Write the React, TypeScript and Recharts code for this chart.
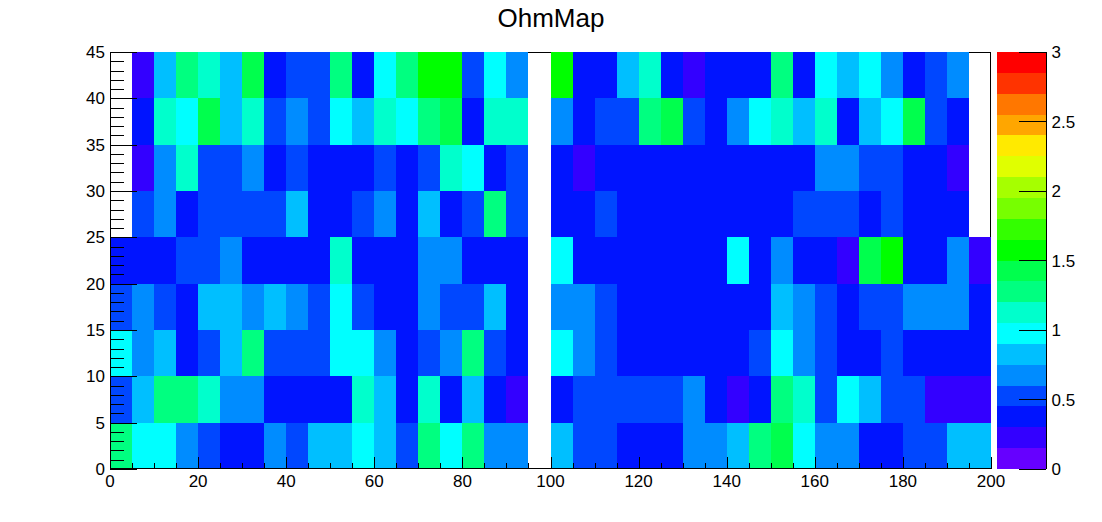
import { Bar, BarChart, Scatter, ScatterChart, XAxis, YAxis } from "recharts";

const FONT = "'Liberation Sans', Arial, sans-serif";

// bin size of the histogram
const binW = 5;
const binH = 5;

// ohm values per y-row, bottom (0-5) to top (40-45); null = empty bin
const row0 = [1.28, 0.98, 0.98, 0.68, 0.53, 0.38, 0.38, 0.68, 0.53, 0.83, 0.83, 0.98, 0.83, 0.53, 1.28, 0.98, 1.28, 0.68, 0.68, null, 0.83, 0.53, 0.53, 0.38, 0.38, 0.38, 0.68, 0.68, 0.83, 1.28, 1.43, 0.98, 0.68, 0.68, 0.38, 0.38, 0.53, 0.53, 0.83, 0.83];
const row1 = [0.53, 0.83, 1.28, 1.28, 1.13, 0.68, 0.68, 0.38, 0.38, 0.38, 0.38, 1.13, 0.83, 0.38, 1.13, 0.38, 0.83, 0.38, 0.23, null, 0.38, 0.53, 0.53, 0.53, 0.53, 0.53, 0.68, 0.38, 0.23, 0.38, 1.28, 1.13, 0.53, 0.98, 0.83, 0.53, 0.53, 0.23, 0.23, 0.23];
const row2 = [0.98, 0.68, 0.83, 0.38, 0.53, 0.83, 1.28, 0.53, 0.53, 0.53, 0.98, 0.98, 0.68, 0.38, 0.53, 0.68, 1.28, 0.53, 0.38, null, 0.98, 0.68, 0.53, 0.38, 0.38, 0.38, 0.38, 0.38, 0.38, 0.53, 0.98, 0.68, 0.53, 0.38, 0.38, 0.53, 0.38, 0.38, 0.38, 0.38];
const row3 = [0.53, 0.68, 0.53, 0.38, 0.83, 0.83, 0.68, 0.83, 0.68, 0.53, 0.98, 0.53, 0.38, 0.38, 0.68, 0.53, 0.53, 0.83, 0.38, null, 0.68, 0.68, 0.53, 0.38, 0.38, 0.38, 0.38, 0.38, 0.38, 0.38, 0.83, 0.68, 0.53, 0.38, 0.53, 0.53, 0.68, 0.68, 0.68, 0.38];
const row4 = [0.38, 0.38, 0.38, 0.53, 0.53, 0.68, 0.38, 0.38, 0.38, 0.38, 1.13, 0.38, 0.38, 0.38, 0.68, 0.68, 0.38, 0.38, 0.38, null, 0.98, 0.38, 0.38, 0.38, 0.38, 0.38, 0.38, 0.38, 0.98, 0.38, 0.68, 0.38, 0.38, 0.23, 1.43, 1.58, 0.38, 0.38, 0.68, 0.23];
const row5 = [null, 0.53, 0.68, 0.38, 0.53, 0.53, 0.53, 0.53, 0.83, 0.38, 0.38, 0.53, 0.68, 0.38, 0.83, 0.38, 0.53, 1.28, 0.53, null, 0.38, 0.38, 0.53, 0.38, 0.38, 0.38, 0.38, 0.38, 0.38, 0.38, 0.38, 0.53, 0.53, 0.53, 0.38, 0.53, 0.38, 0.38, 0.38, null];
const row6 = [null, 0.23, 0.68, 1.13, 0.53, 0.53, 0.68, 0.38, 0.53, 0.38, 0.38, 0.38, 0.53, 0.38, 0.53, 1.13, 0.98, 0.38, 0.53, null, 0.38, 0.23, 0.38, 0.38, 0.38, 0.38, 0.38, 0.38, 0.38, 0.38, 0.38, 0.38, 0.68, 0.68, 0.53, 0.53, 0.38, 0.38, 0.23, null];
const row7 = [null, 0.38, 1.13, 0.98, 1.43, 0.83, 1.13, 0.53, 0.68, 0.53, 0.98, 0.83, 1.13, 0.98, 1.28, 1.43, 0.38, 1.13, 1.13, null, 0.68, 0.38, 0.53, 0.53, 1.28, 1.43, 0.53, 0.38, 0.68, 0.98, 1.13, 0.83, 1.13, 0.38, 0.83, 0.98, 1.43, 0.53, 0.38, null];
const row8 = [null, 0.23, 0.83, 1.28, 1.13, 0.83, 1.43, 0.38, 0.53, 0.53, 1.28, 0.38, 0.98, 1.28, 1.58, 1.58, 0.53, 0.98, 0.68, null, 1.58, 0.38, 0.38, 0.83, 1.13, 0.38, 0.23, 0.38, 0.38, 0.38, 1.28, 0.38, 0.98, 0.83, 0.98, 0.68, 0.38, 0.53, 0.68, null];
const rows = [row0, row1, row2, row3, row4, row5, row6, row7, row8];

// palette, 20 contours between zMin and zMax
const zMin = 0;
const zMax = 3;
const palette = [
  "#6600ff", "#3300ff", "#0014ff", "#0047ff", "#008cff",
  "#00bfff", "#00ffff", "#00ffcc", "#00ff80", "#00ff4d",
  "#00ff00", "#33ff00", "#77ff00", "#a6ff00", "#e0ff00",
  "#ffea00", "#ffa600", "#ff7700", "#ff3300", "#ff0000",
];

const xMajor = [0, 20, 40, 60, 80, 100, 120, 140, 160, 180, 200];
const xMinor = [5, 10, 15, 25, 30, 35, 45, 50, 55, 65, 70, 75, 85, 90, 95, 105, 110, 115, 125, 130, 135, 145, 150, 155, 165, 170, 175, 185, 190, 195];
const yMajor = [0, 5, 10, 15, 20, 25, 30, 35, 40, 45];
const yMinor = [1, 2, 3, 4, 6, 7, 8, 9, 11, 12, 13, 14, 16, 17, 18, 19, 21, 22, 23, 24, 26, 27, 28, 29, 31, 32, 33, 34, 36, 37, 38, 39, 41, 42, 43, 44];
const zTicks = [0, 0.5, 1, 1.5, 2, 2.5, 3];

const colorOf = (v: number) => {
  const step = (zMax - zMin) / palette.length;
  return palette[Math.min(palette.length - 1, Math.floor((v - zMin) / step))];
};

const cells = rows.flatMap((row, r) =>
  row.flatMap((v, c) =>
    v === null ? [] : [{ x: (c + 0.5) * binW, y: (r + 0.5) * binH, ohm: v }],
  ),
);

const plotLeft = 110;
const plotTop = 52;
const plotW = 881;
const plotH = 417;
const plotBottom = plotTop + plotH;
const cellW = plotW / rows[0].length;
const cellH = plotH / rows.length;
const plotMargin = { top: plotTop, right: 1102 - plotLeft - plotW, bottom: 522 - plotTop - plotH, left: plotLeft };

// axes with zero size are not drawn, so give them a hair
const HAIR = 0.01;

function HeatCell(props: any) {
  const { cx, cy, payload } = props;
  return (
    <rect
      x={cx - cellW / 2}
      y={cy - cellH / 2}
      width={cellW}
      height={cellH}
      fill={colorOf(payload.ohm)}
      shapeRendering="crispEdges"
    />
  );
}

// the tick layer only needs the axes, its series stays invisible
const NoMark = () => <g />;

const tickFont = { fontSize: 17, fill: "#000", fontFamily: FONT };
const blackLine = { stroke: "#000", shapeRendering: "crispEdges" };

// ROOT style ticks point into the frame, drawn here next to the label
const xTick = (len: number, label: boolean) => (p: any) => {
  const px = Math.round(p.payload.coordinate) + 0.5;
  return (
    <g>
      <line x1={px} x2={px} y1={plotBottom} y2={plotBottom - len} stroke="#000" />
      {label && (
        <text x={p.payload.coordinate} y={plotBottom + 18} textAnchor="middle" {...tickFont}>
          {p.payload.value}
        </text>
      )}
    </g>
  );
};

const yTick = (len: number, label: boolean) => (p: any) => {
  const py = Math.round(p.payload.coordinate) + 0.5;
  return (
    <g>
      <line x1={plotLeft} x2={plotLeft + len} y1={py} y2={py} stroke="#000" />
      {label && (
        <text x={plotLeft - 5} y={p.payload.coordinate + 6} textAnchor="end" {...tickFont}>
          {p.payload.value}
        </text>
      )}
    </g>
  );
};

const stepKeys = palette.map((_, i) => `step${i}`);
const barRow = [Object.fromEntries(stepKeys.map((k) => [k, (zMax - zMin) / palette.length]))];

const layer = { position: "absolute", left: 0, top: 0 } as const;

export default function App() {
  return (
    <div style={{ position: "absolute", left: 0, top: 0, width: 1102, height: 522, background: "#fff", fontFamily: FONT }}>
      <div style={{ position: "absolute", left: 0, width: 1102, top: 3, textAlign: "center", fontSize: 26, color: "#000" }}>
        OhmMap
      </div>
      {/* frame sits behind the cells, only shows through the empty bins */}
      <div style={{ position: "absolute", left: plotLeft, top: plotTop, width: plotW, height: plotH, border: "1px solid #000", boxSizing: "border-box" }} />
      <div style={layer}>
        <ScatterChart width={1102} height={522} margin={plotMargin}>
          <XAxis hide type="number" dataKey="x" domain={[0, 200]} />
          <YAxis hide type="number" dataKey="y" domain={[0, 45]} />
          <Scatter data={cells} shape={HeatCell} isAnimationActive={false} />
        </ScatterChart>
      </div>
      {/* scatter paints over its own axes, so the ticks get a chart of their own on top */}
      <div style={layer}>
        <ScatterChart width={1102} height={522} margin={plotMargin}>
          <XAxis
            xAxisId="minor"
            type="number"
            dataKey="x"
            domain={[0, 200]}
            ticks={xMinor}
            interval={0}
            height={HAIR}
            tick={xTick(6, false)}
            tickLine={false}
            axisLine={blackLine}
          />
          <XAxis
            xAxisId="main"
            type="number"
            dataKey="x"
            domain={[0, 200]}
            ticks={xMajor}
            interval={0}
            height={HAIR}
            tick={xTick(12, true)}
            tickLine={false}
            axisLine={blackLine}
          />
          <YAxis
            yAxisId="minor"
            type="number"
            dataKey="y"
            domain={[0, 45]}
            ticks={yMinor}
            interval={0}
            width={HAIR}
            tick={yTick(14, false)}
            tickLine={false}
            axisLine={blackLine}
          />
          <YAxis
            yAxisId="main"
            type="number"
            dataKey="y"
            domain={[0, 45]}
            ticks={yMajor}
            interval={0}
            width={HAIR}
            tick={yTick(27, true)}
            tickLine={false}
            axisLine={blackLine}
          />
          <Scatter xAxisId="main" yAxisId="main" data={cells} shape={NoMark} isAnimationActive={false} />
          <Scatter xAxisId="minor" yAxisId="minor" data={cells} shape={NoMark} isAnimationActive={false} />
        </ScatterChart>
      </div>
      <div style={{ position: "absolute", left: 997, top: 0 }}>
        <BarChart
          width={105}
          height={522}
          data={barRow}
          barCategoryGap={0}
          margin={{ top: plotTop, right: 55.5, bottom: 522 - plotTop - plotH, left: 0 }}
        >
          <XAxis hide />
          <YAxis
            orientation="right"
            type="number"
            domain={[zMin, zMax]}
            ticks={zTicks}
            interval={0}
            width={HAIR}
            tick={tickFont}
            tickSize={-27}
            tickMargin={32}
            axisLine={blackLine}
            tickLine={blackLine}
          />
          {stepKeys.map((k, i) => (
            <Bar key={k} dataKey={k} stackId="z" fill={palette[i]} shapeRendering="crispEdges" isAnimationActive={false} />
          ))}
        </BarChart>
      </div>
    </div>
  );
}
